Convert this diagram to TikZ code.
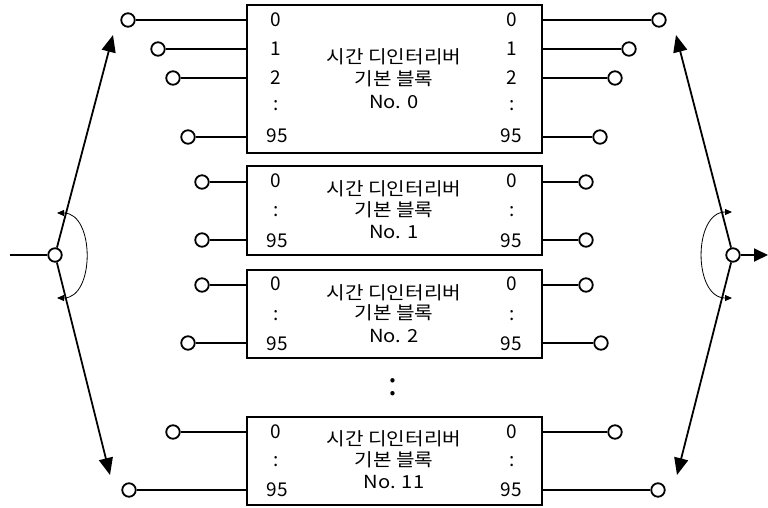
\documentclass[tikz,border=0pt]{standalone}
\usepackage{fontspec}
\setmainfont{Noto Sans CJK KR}
\newfontfamily\krwide[FakeStretch=1.12]{Noto Sans CJK KR}
\usetikzlibrary{arrows.meta}
\begin{document}
\begin{tikzpicture}[x=1pt,y=-1pt,
  blk/.style={draw,line width=1.8pt,minimum width=295pt,inner sep=0pt},
  port/.style={circle,draw,line width=1.8pt,fill=white,minimum size=13.5pt,inner sep=0pt},
  wire/.style={line width=1.8pt},
  arm/.style={line width=1.8pt,-{Triangle[length=17pt,width=14pt]}},
  swarc/.style={line width=0.8pt,{Triangle[length=7pt,width=6pt]}-{Triangle[length=7pt,width=6pt]}},
  lbl/.style={font=\fontsize{19}{19}\selectfont,inner sep=0pt},
  ttl/.style={font=\krwide\fontsize{18}{18}\selectfont,inner sep=0pt}]
\useasboundingbox (0,0) rectangle (768,507);
% boxes
\node[blk,minimum height=148pt] (B0) at (394.5,79) {};
\node[blk,minimum height=89pt] (B1) at (394.5,210.5) {};
\node[blk,minimum height=88pt] (B2) at (394.5,314) {};
\node[blk,minimum height=88pt] (B11) at (394.5,461) {};
% box 0 ports
\foreach \n/\x/\y in {a/128/20, b/158/49, c/173/78, d/188/137}{
  \node[port] (B0L\n) at (\x,\y) {};
  \draw[wire] (B0L\n) -- (B0L\n -| B0.west);
}
\foreach \n/\x/\y in {a/659/20, b/629/49, c/615/78, d/600/137}{
  \node[port] (B0R\n) at (\x,\y) {};
  \draw[wire] (B0R\n) -- (B0R\n -| B0.east);
}
% box 1 ports
\foreach \n/\x/\y in {a/202/182, d/202/240}{
  \node[port] (B1L\n) at (\x,\y) {};
  \draw[wire] (B1L\n) -- (B1L\n -| B1.west);
}
\foreach \n/\x/\y in {a/586/182, d/586/240}{
  \node[port] (B1R\n) at (\x,\y) {};
  \draw[wire] (B1R\n) -- (B1R\n -| B1.east);
}
% box 2 ports
\foreach \n/\x/\y in {a/202/285, d/188/343}{
  \node[port] (B2L\n) at (\x,\y) {};
  \draw[wire] (B2L\n) -- (B2L\n -| B2.west);
}
\foreach \n/\x/\y in {a/586/285, d/601/343}{
  \node[port] (B2R\n) at (\x,\y) {};
  \draw[wire] (B2R\n) -- (B2R\n -| B2.east);
}
% box 11 ports
\foreach \n/\x/\y in {a/173/432, d/129/490}{
  \node[port] (B11L\n) at (\x,\y) {};
  \draw[wire] (B11L\n) -- (B11L\n -| B11.west);
}
\foreach \n/\x/\y in {a/615/432, d/658/490}{
  \node[port] (B11R\n) at (\x,\y) {};
  \draw[wire] (B11R\n) -- (B11R\n -| B11.east);
}
% box 0 labels
\node[lbl] (b0l0) at (276,20) {0};
\node[lbl] (b0l1) at (276,49) {1};
\node[lbl] (b0l2) at (276,78) {2};
\node[lbl] (b0l3) at (276,106) {:};
\node[lbl] (b0l4) at (277,136) {95};
\node[lbl] (b0r0) at (512,20) {0};
\node[lbl] (b0r1) at (512,49) {1};
\node[lbl] (b0r2) at (512,78) {2};
\node[lbl] (b0r3) at (512,106) {:};
\node[lbl] (b0r4) at (511,136) {95};
\node[ttl] (b0t1) at (394,57) {시간 디인터리버};
\node[ttl] (b0t2) at (394,79) {기본 블록};
\node[ttl] (b0t3) at (394,102) {No. 0};
% box 1 labels
\node[lbl] (b1l0) at (276,181) {0};
\node[lbl] (b1l1) at (276,212) {:};
\node[lbl] (b1l2) at (277,241) {95};
\node[lbl] (b1r0) at (512,181) {0};
\node[lbl] (b1r1) at (512,212) {:};
\node[lbl] (b1r2) at (511,241) {95};
\node[ttl] (b1t1) at (394,189) {시간 디인터리버};
\node[ttl] (b1t2) at (394,210) {기본 블록};
\node[ttl] (b1t3) at (394,232) {No. 1};
% box 2 labels
\node[lbl] (b2l0) at (276,284) {0};
\node[lbl] (b2l1) at (276,316) {:};
\node[lbl] (b2l2) at (277,344) {95};
\node[lbl] (b2r0) at (512,284) {0};
\node[lbl] (b2r1) at (512,316) {:};
\node[lbl] (b2r2) at (511,344) {95};
\node[ttl] (b2t1) at (394,292.5) {시간 디인터리버};
\node[ttl] (b2t2) at (394,313) {기본 블록};
\node[ttl] (b2t3) at (394,336) {No. 2};
% box 11 labels
\node[lbl] (b11l0) at (276,432) {0};
\node[lbl] (b11l1) at (276,462) {:};
\node[lbl] (b11l2) at (277,490) {95};
\node[lbl] (b11r0) at (512,432) {0};
\node[lbl] (b11r1) at (512,462) {:};
\node[lbl] (b11r2) at (511,490) {95};
\node[ttl] (b11t1) at (394,438.5) {시간 디인터리버};
\node[ttl] (b11t2) at (394,460) {기본 블록};
\node[ttl] (b11t3) at (394,482) {No. 11};
% vertical dots
\node[font=\fontsize{32}{32}\selectfont,inner sep=0pt,anchor=base] (vdots) at (393,395) {:};
% left switch
\node[port] (SL) at (55,255) {};
\coordinate (SLin) at (10,255);
\draw[wire] (SLin) -- (SL);
\coordinate (SLup) at (113,35);
\coordinate (SLdn) at (110,475);
\draw[arm] (SL) -- (SLup);
\draw[arm] (SL) -- (SLdn);
\coordinate (ALu) at (57,213);
\coordinate (ALd) at (57,298);
\draw[swarc] (ALu) .. controls (95,213) and (95,298) .. (ALd);
% right switch
\node[port] (SR) at (733,255) {};
\coordinate (SRout) at (768,255);
\draw[wire,-{Triangle[length=14pt,width=13pt]}] (SR) -- (SRout);
\coordinate (SRup) at (676,35);
\coordinate (SRdn) at (677,475);
\draw[arm] (SR) -- (SRup);
\draw[arm] (SR) -- (SRdn);
\coordinate (ARu) at (732,212);
\coordinate (ARd) at (732,298);
\draw[swarc] (ARu) .. controls (693,212) and (693,298) .. (ARd);
\end{tikzpicture}
\end{document}
